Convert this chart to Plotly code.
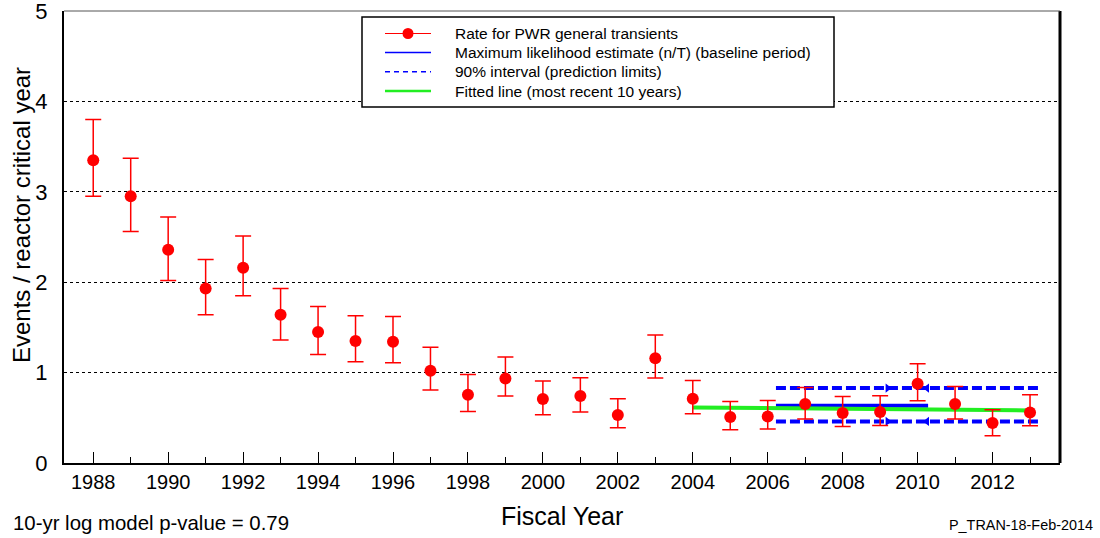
import plotly.graph_objects as go

years = list(range(1988, 2014))
rate = [3.35, 2.95, 2.36, 1.93, 2.16, 1.64, 1.45, 1.35, 1.34, 1.02, 0.755, 0.935, 0.707,
        0.741, 0.531, 1.16, 0.711, 0.509, 0.515, 0.652, 0.553, 0.564, 0.877, 0.652, 0.442, 0.559]
upper = [3.80, 3.37, 2.72, 2.25, 2.51, 1.93, 1.73, 1.63, 1.62, 1.28, 0.979, 1.172, 0.906,
         0.943, 0.711, 1.415, 0.913, 0.681, 0.692, 0.836, 0.736, 0.744, 1.098, 0.847, 0.589, 0.755]
lower = [2.95, 2.56, 2.02, 1.64, 1.85, 1.36, 1.20, 1.12, 1.11, 0.807, 0.570, 0.741, 0.534,
         0.564, 0.390, 0.940, 0.545, 0.368, 0.376, 0.486, 0.405, 0.416, 0.689, 0.486, 0.302, 0.412]

mle_x = [2006.22, 2010.28]
mle_val = 0.633
pred_x = [2006.22, 2013.28]
pred_upper = 0.829
pred_lower = 0.46
arrow_right_x = 2009.2
arrow_left_x = 2010.25
fit_x = [2004, 2013]
fit_y = [0.615, 0.581]

legend_labels = ["Rate for PWR general transients",
                 "Maximum likelihood estimate (n/T) (baseline period)",
                 "90% interval (prediction limits)",
                 "Fitted line (most recent 10 years)"]

FONT = "Arial, Liberation Sans, sans-serif"
RED = "#ff0000"
BLUE = "#0000ff"
GREEN = "#22ee22"

W, H = 1100, 538
ML, MR, MT, MB = 64, 40, 11, 75
PW, PH = W - ML - MR, H - MT - MB


def px(x):
    return (x - ML) / PW


def py(y):
    return (H - MB - y) / PH


err_plus = [u - r for u, r in zip(upper, rate)]
err_minus = [r - l for r, l in zip(rate, lower)]

fig = go.Figure()

for val in (pred_upper, pred_lower):
    fig.add_trace(go.Scatter(x=pred_x, y=[val, val], mode="lines",
                             line=dict(color=BLUE, width=4, dash="10px,4px"),
                             showlegend=False, hoverinfo="skip"))
    fig.add_trace(go.Scatter(x=[arrow_right_x], y=[val], mode="markers",
                             marker=dict(symbol="triangle-right", color=BLUE, size=8),
                             showlegend=False, hoverinfo="skip"))
    fig.add_trace(go.Scatter(x=[arrow_left_x], y=[val], mode="markers",
                             marker=dict(symbol="triangle-left", color=BLUE, size=8),
                             showlegend=False, hoverinfo="skip"))

fig.add_trace(go.Scatter(x=mle_x, y=[mle_val, mle_val], mode="lines",
                         line=dict(color=BLUE, width=4), showlegend=False))
fig.add_trace(go.Scatter(x=fit_x, y=fit_y, mode="lines",
                         line=dict(color=GREEN, width=4), showlegend=False))

fig.add_trace(go.Scatter(x=years, y=rate, mode="markers",
                         marker=dict(color=RED, size=12),
                         error_y=dict(type="data", array=err_plus, arrayminus=err_minus,
                                      color=RED, thickness=1.5, width=8),
                         showlegend=False))

fig.update_layout(
    width=W, height=H,
    margin=dict(l=ML, r=MR, t=MT, b=MB, autoexpand=False),
    plot_bgcolor="white", paper_bgcolor="white",
    font=dict(family=FONT, color="black"),
    showlegend=False,
    xaxis=dict(range=[1987.22, 2013.8], tick0=1988, dtick=2, ticks="inside",
               ticklen=11, tickwidth=1, tickcolor="black",
               minor=dict(dtick=1, tick0=1988, ticks="inside", ticklen=6, tickcolor="black"),
               showgrid=False, zeroline=False, showline=True, linecolor="black", linewidth=2,
               tickfont=dict(size=20)),
    yaxis=dict(range=[0, 5], dtick=1, ticks="", showgrid=True, gridcolor="black",
               griddash="dot", gridwidth=1, zeroline=False, showline=True,
               linecolor="black", linewidth=2, tickfont=dict(size=22),
               ticklabelstandoff=10, ticklabeloverflow="allow"),
)

fig.add_shape(type="line", xref="paper", yref="paper", x0=1, x1=1, y0=0, y1=1,
              line=dict(color="black", width=3))
fig.add_shape(type="line", xref="paper", yref="paper", x0=0, x1=1, y0=1, y1=1,
              line=dict(color="#555555", width=1))

lx0, lx1, ly0, ly1 = 362, 834, 17, 107
fig.add_shape(type="rect", xref="paper", yref="paper", x0=px(lx0), x1=px(lx1),
              y0=py(ly1), y1=py(ly0), line=dict(color="black", width=1.5),
              fillcolor="white", layer="above")
rows_y = [33.5, 52.5, 71.7, 91]
sym_x0, sym_x1, text_x = 385, 431, 453
styles = [dict(color=RED, width=1), dict(color=BLUE, width=1.5),
          dict(color=BLUE, width=1.5, dash="5px,4px"), dict(color=GREEN, width=2.5)]
for ry, st, lab in zip(rows_y, styles, legend_labels):
    fig.add_shape(type="line", xref="paper", yref="paper", x0=px(sym_x0), x1=px(sym_x1),
                  y0=py(ry), y1=py(ry), line=st, layer="above")
    fig.add_annotation(text=lab, xref="paper", yref="paper", x=px(text_x), y=py(ry),
                       xanchor="left", yanchor="middle", showarrow=False,
                       font=dict(size=15.5, family=FONT))
r = 5.5
cx = 408
fig.add_shape(type="circle", xref="paper", yref="paper", x0=px(cx - r), x1=px(cx + r),
              y0=py(rows_y[0] + r), y1=py(rows_y[0] - r), fillcolor=RED,
              line=dict(color=RED, width=0), layer="above")

fig.add_annotation(text="Fiscal Year", xref="paper", yref="paper", x=px(562), y=py(516),
                   xanchor="center", yanchor="middle", showarrow=False,
                   font=dict(size=25, family=FONT))
fig.add_annotation(text="Events / reactor critical year", xref="paper", yref="paper",
                   x=px(21), y=py(215), xanchor="center", yanchor="middle", textangle=-90,
                   showarrow=False, font=dict(size=24, family=FONT))
fig.add_annotation(text="10-yr log model p-value = 0.79", xref="paper", yref="paper",
                   x=px(11), y=py(523), xanchor="left", yanchor="middle", showarrow=False,
                   font=dict(size=20.4, family=FONT))
fig.add_annotation(text="P_TRAN-18-Feb-2014", xref="paper", yref="paper",
                   x=px(1095), y=py(525), xanchor="right", yanchor="middle", showarrow=False,
                   font=dict(size=14.4, family=FONT))

fig.write_html("out.html", config={"displayModeBar": False},
               post_script="document.body.style.margin='0px';")
